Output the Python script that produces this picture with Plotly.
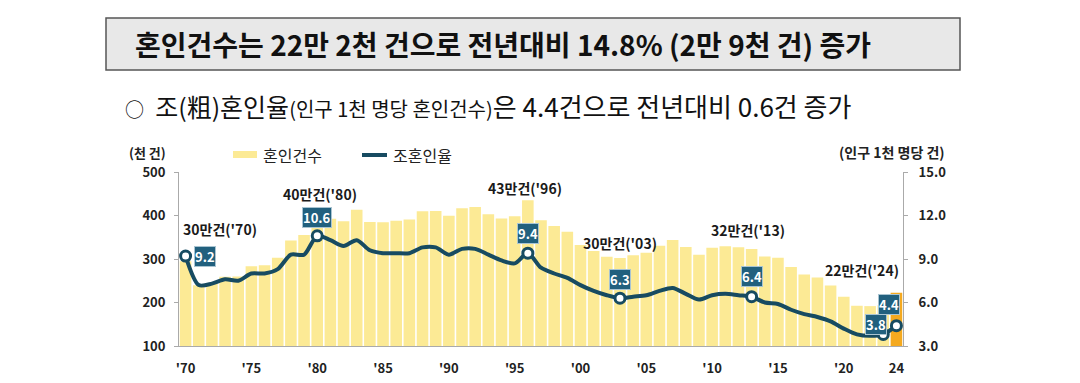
import plotly.graph_objects as go

# ---------------- data ----------------
years = list(range(1970, 2025))
marriages = [295.1, 239.5, 244.8, 259.1, 259.6, 283.2, 285.5, 303.0, 342.5, 355.0,
             403.0, 392.5, 387.0, 413.0, 385.0, 384.7, 388.0, 391.0, 410.0, 410.5,
             399.3, 416.9, 419.8, 402.6, 393.1, 398.5, 434.9, 389.0, 375.6, 362.7,
             332.1, 318.4, 304.9, 302.5, 308.6, 314.3, 330.6, 343.6, 327.7, 309.8,
             326.1, 329.1, 327.1, 322.8, 305.5, 302.8, 281.6, 264.5, 257.6, 239.2,
             213.5, 192.5, 191.7, 193.7, 222.4]
rates = [9.2, 7.2, 7.3, 7.6, 7.5, 8.0, 8.0, 8.3, 9.3, 9.3,
         10.6, 10.3, 9.9, 10.3, 9.6, 9.4, 9.4, 9.4, 9.8, 9.8,
         9.3, 9.7, 9.7, 9.3, 8.9, 8.7, 9.4, 8.4, 8.0, 7.7,
         7.2, 6.8, 6.5, 6.3, 6.4, 6.5, 6.8, 7.0, 6.6, 6.2,
         6.5, 6.6, 6.5, 6.4, 6.0, 5.9, 5.5, 5.2, 5.0, 4.7,
         4.2, 3.8, 3.7, 3.8, 4.4]
highlight_years = [1970, 1980, 1996, 2003, 2013, 2023, 2024]
count_labels = {1970: "30만건('70)", 1980: "40만건('80)", 1996: "43만건('96)",
                2003: "30만건('03)", 2013: "32만건('13)", 2024: "22만건('24)"}
tick_years = [1970, 1975, 1980, 1985, 1990, 1995, 2000, 2005, 2010, 2015, 2020, 2024]
tick_text = ["'70", "'75", "'80", "'85", "'90", "'95", "'00", "'05", "'10", "'15", "'20", "24"]

title_text = "혼인건수는 22만 2천 건으로 전년대비 14.8% (2만 9천 건) 증가"
sub_main1 = "조(粗)혼인율"
sub_small = "(인구 1천 명당 혼인건수)"
sub_main2 = "은 4.4건으로 전년대비 0.6건 증가"

# ---------------- style ----------------
FONT = "Noto Sans CJK KR"
BAR = "#FCEA95"
BAR_LAST = "#F4A91F"
LINE = "#174B61"
LABEL_BG = "#21607E"
W, H = 1080, 383
L, R, T, B = 179, 177, 172, 37
PW, PH = W - L - R, H - T - B


def px(xp):
    return (xp - L) / PW


def py(yp):
    return (H - B - yp) / PH


bar_colors = [BAR] * (len(years) - 1) + [BAR_LAST]

fig = go.Figure()
fig.add_trace(go.Bar(x=years, y=marriages, marker_color=bar_colors,
                     marker_line_width=0, name="혼인건수", showlegend=False))
fig.add_trace(go.Scatter(x=years, y=rates, yaxis="y2", mode="lines",
                         line=dict(color=LINE, width=4, shape="spline", smoothing=0.8),
                         name="조혼인율", showlegend=False))
hl_rates = [rates[years.index(y)] for y in highlight_years]
fig.add_trace(go.Scatter(x=highlight_years, y=hl_rates, yaxis="y2", mode="markers",
                         marker=dict(color="white", size=10, line=dict(color=LINE, width=3)),
                         showlegend=False, hoverinfo="skip"))

ann = []


def add_text(xp, yp, text, size, color="#222", xanchor="center", weight=None):
    f = dict(family=FONT, size=size, color=color)
    if weight:
        f["weight"] = weight
    ann.append(dict(x=px(xp), y=py(yp), xref="paper", yref="paper", text=text,
                    xanchor=xanchor, yanchor="middle", showarrow=False, font=f))


# value labels (rate)
shifts = {1970: (19, 0), 1980: (0, 18), 1996: (0, 20), 2003: (0, 19),
          2013: (0, 20), 2023: (-7, 10), 2024: (-7, 21)}
for yr, rv in zip(highlight_years, hl_rates):
    dx, dy = shifts[yr]
    ann.append(dict(x=yr, y=rv, xref="x", yref="y2", text=f"<b>{rv:.1f}</b>",
                    xanchor="center", yanchor="middle",
                    showarrow=False, xshift=dx, yshift=dy,
                    font=dict(family=FONT, size=13, color="white"),
                    bgcolor=LABEL_BG, bordercolor="#A9C4D1", borderwidth=1, borderpad=0))
# count labels
cpos = {1970: (220, 229), 1980: (320, 194), 1996: (525, 188), 2003: (620, 243),
        2013: (748, 230), 2024: (862, 270)}
for yr, txt in count_labels.items():
    xp, yp = cpos[yr]
    add_text(xp, yp, f"<b>{txt}</b>", 14, color="#1a1a1a")
# axis unit labels
add_text(147, 152, "<b>(천 건)</b>", 13)
add_text(892, 152, "<b>(인구 1천 명당 건)</b>", 14)
# legend texts
add_text(261, 155, "혼인건수", 16, xanchor="left")
add_text(391, 155, "조혼인율", 16, xanchor="left")
# title
add_text(503, 44, title_text, 28, color="#111", weight=600)
# subtitle
add_text(123, 105, (f"<span style='font-size:19px'>○</span>  {sub_main1}"
                    f"<span style='font-size:20px'>{sub_small}</span>"
                    f"<span style='font-size:26px'>{sub_main2}</span>"),
         25, color="#111", xanchor="left")

shapes = [
    dict(type="rect", xref="paper", yref="paper", x0=px(106), x1=px(960), y0=py(70), y1=py(18),
         fillcolor="#E8E8E8", line=dict(color="#555555", width=1.5), layer="below"),
    dict(type="rect", xref="paper", yref="paper", x0=px(233), x1=px(257), y0=py(158), y1=py(151),
         fillcolor=BAR, line=dict(width=0)),
    dict(type="line", xref="paper", yref="paper", x0=px(362), x1=px(387), y0=py(155), y1=py(155),
         line=dict(color=LINE, width=4)),
]

fig.update_layout(
    width=W, height=H, margin=dict(l=L, r=R, t=T, b=B, autoexpand=False),
    paper_bgcolor="white", plot_bgcolor="white",
    bargap=0.12, showlegend=False,
    font=dict(family=FONT, color="#222"),
    xaxis=dict(range=[1969.5, 2024.5], tickvals=tick_years, ticktext=tick_text,
               showline=True, linecolor="#AAAAAA", linewidth=1, ticks="", showgrid=False,
               zeroline=False, ticklabelstandoff=10, automargin=False,
               tickfont=dict(family=FONT, size=13, color="#222", weight="bold")),
    yaxis=dict(range=[100, 500], dtick=100, showline=True, linecolor="#AAAAAA", linewidth=1,
               ticks="outside", ticklen=4, tickcolor="#AAAAAA", showgrid=False, zeroline=False,
               ticklabelstandoff=6, automargin=False,
               tickfont=dict(family=FONT, size=13, color="#222", weight="bold")),
    yaxis2=dict(range=[3, 15], dtick=3, tickformat=".1f", overlaying="y", side="right",
                showline=True, linecolor="#AAAAAA", linewidth=1, ticks="outside", ticklen=4,
                tickcolor="#AAAAAA", showgrid=False, zeroline=False, ticklabelstandoff=8,
                automargin=False,
                tickfont=dict(family=FONT, size=13, color="#222", weight="bold")),
    annotations=ann, shapes=shapes,
)

fig.write_html("out.html", config={"displayModeBar": False},
               post_script="document.body.style.margin='0';")
